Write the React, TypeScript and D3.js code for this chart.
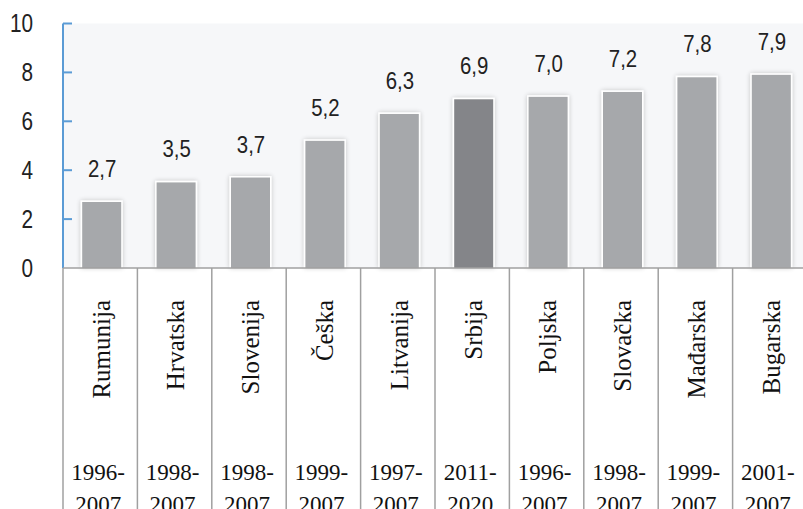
import React from 'react';
import * as d3 from 'd3';

const countries = ['Rumunija', 'Hrvatska', 'Slovenija', 'Češka', 'Litvanija', 'Srbija', 'Poljska', 'Slovačka', 'Mađarska', 'Bugarska'];
const values = [2.7, 3.5, 3.7, 5.2, 6.3, 6.9, 7.0, 7.2, 7.8, 7.9];
const periodFrom = ['1996-', '1998-', '1998-', '1999-', '1997-', '2011-', '1996-', '1998-', '1999-', '2001-'];
const periodTo = ['2007', '2007', '2007', '2007', '2007', '2020', '2007', '2007', '2007', '2007'];
const yTicks = [0, 2, 4, 6, 8, 10];
const highlight = 'Srbija';

const W = 803;
const H = 509;
const left = 63;
const right = 807;
const top = 23.5;
const base = 268;

export default function App() {
  const x = d3.scaleBand<string>().domain(countries).range([left, right]);
  const y = d3.scaleLinear().domain([0, 10]).range([base, top]);
  const bw = 39;
  const fmt = (v: number) => d3.format('.1f')(v).replace('.', ',');
  const narrow = 'Liberation Sans, Arial, sans-serif';
  const serif = 'Liberation Serif, Times New Roman, serif';

  return (
    <svg width={W} height={H} style={{ position: 'absolute', left: 0, top: 0, background: '#fff' }}>
      <defs>
        <filter id="sh" x="-40%" y="-10%" width="180%" height="120%">
          <feGaussianBlur in="SourceAlpha" stdDeviation="2.5" />
          <feComponentTransfer>
            <feFuncA type="linear" slope="0.22" />
          </feComponentTransfer>
          <feMerge>
            <feMergeNode />
            <feMergeNode in="SourceGraphic" />
          </feMerge>
        </filter>
      </defs>

      {/* plot background */}
      <rect x={left} y={top} width={W - left} height={base - top} fill="#f6f7f9" />

      {/* bars */}
      {countries.map((c, i) => {
        const cx = (x(c) as number) + x.bandwidth() / 2 + 1.5;
        const yt = y(values[i]);
        return (
          <g key={c} filter="url(#sh)">
            <rect x={cx - bw / 2 - 1.5} y={yt - 1.5} width={bw + 3} height={base - yt + 1.5} fill="#fff" />
            <rect x={cx - bw / 2} y={yt} width={bw} height={base - yt}
              fill={c === highlight ? '#848589' : '#a6a8ab'} />
          </g>
        );
      })}

      {/* value labels */}
      {countries.map((c, i) => {
        const cx = (x(c) as number) + x.bandwidth() / 2 + 2;
        return (
          <g key={c} transform={`translate(${cx},${y(values[i]) - 25}) scale(0.85,1)`}>
            <text textAnchor="middle" fontFamily={narrow} fontSize={24} fill="#222">{fmt(values[i])}</text>
          </g>
        );
      })}

      {/* y axis */}
      <line x1={left} x2={left} y1={top} y2={base} stroke="#5b9bd5" strokeWidth={2} />
      {yTicks.map(t => (
        <g key={t}>
          {t > 0 && <line x1={left} x2={left + 9} y1={y(t)} y2={y(t)} stroke="#5b9bd5" strokeWidth={2} />}
          <g transform={`translate(33,${y(t)}) scale(0.83,1)`}>
            <text textAnchor="end" dominantBaseline="central" fontFamily={narrow} fontSize={25} fill="#222">{t}</text>
          </g>
        </g>
      ))}

      {/* category table */}
      <line x1={left} x2={W} y1={base} y2={base} stroke="#a0a0a0" strokeWidth={1.5} />
      {countries.map((c, i) => {
        const x0 = x(c) as number;
        const cx = x0 + x.bandwidth() / 2;
        return (
          <g key={c}>
            <line x1={x0} x2={x0} y1={base} y2={H} stroke="#a0a0a0" strokeWidth={1.5} />
            <text transform={`translate(${cx + 1},300) rotate(-90)`} textAnchor="end" dy="0.35em"
              fontFamily={serif} fontSize={25} fill="#111">{c}</text>
            <text x={cx - 2} y={480} textAnchor="middle" fontFamily={serif} fontSize={23} fill="#111">{periodFrom[i]}</text>
            <text x={cx - 2} y={512} textAnchor="middle" fontFamily={serif} fontSize={23} fill="#111">{periodTo[i]}</text>
          </g>
        );
      })}
    </svg>
  );
}
